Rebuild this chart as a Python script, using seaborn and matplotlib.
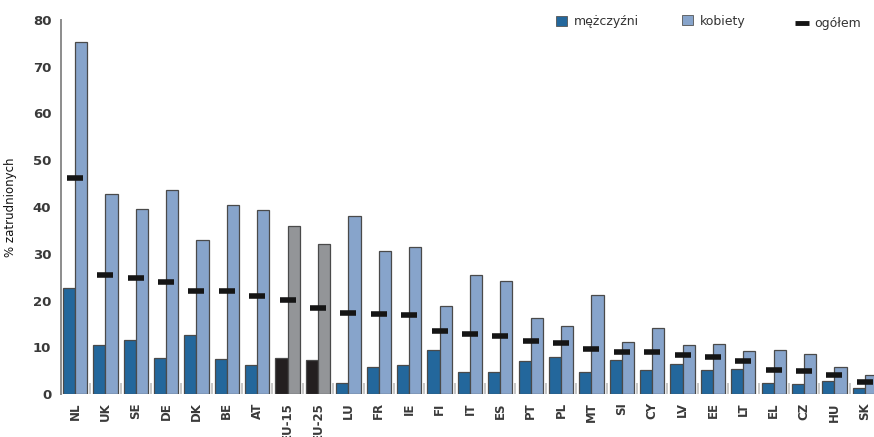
import pandas as pd
import numpy as np
import matplotlib
matplotlib.use('Agg')
import matplotlib.pyplot as plt
import seaborn as sns
from matplotlib.patches import Patch
from matplotlib.lines import Line2D
from matplotlib.ticker import FixedLocator

# ------------------------------------------------------------
#  DATA
# ------------------------------------------------------------
kraje = ['NL', 'UK', 'SE', 'DE', 'DK', 'BE', 'AT', 'EU-15', 'EU-25', 'LU',
         'FR', 'IE', 'FI', 'IT', 'ES', 'PT', 'PL', 'MT', 'SI', 'CY',
         'LV', 'EE', 'LT', 'EL', 'CZ', 'HU', 'SK']
mezczyzni = [22.7, 10.5, 11.5, 7.7, 12.6, 7.5, 6.2, 7.7, 7.3, 2.4,
             5.8, 6.2, 9.4, 4.7, 4.7, 7.1, 7.9, 4.7, 7.3, 5.1,
             6.4, 5.1, 5.3, 2.4, 2.1, 2.8, 1.3]
kobiety = [75.3, 42.8, 39.6, 43.6, 33.0, 40.4, 39.4, 36.0, 32.1, 38.1,
           30.6, 31.4, 18.8, 25.5, 24.2, 16.3, 14.5, 21.2, 11.1, 14.1,
           10.5, 10.7, 9.2, 9.4, 8.6, 5.8, 4.1]
ogolem = [46.2, 25.4, 24.8, 24.0, 22.0, 22.0, 21.0, 20.1, 18.4, 17.3,
          17.1, 16.9, 13.5, 12.8, 12.4, 11.3, 10.9, 9.6, 9.0, 9.0,
          8.3, 7.9, 7.1, 5.1, 4.9, 4.1, 2.6]
srednie_ue = ['EU-15', 'EU-25']

# colours
c_men = '#23679c'
c_women = '#87a4cb'
c_men_eu = '#231f20'
c_women_eu = '#939598'
c_edge = '#4a4a4a'

df = pd.DataFrame({
    'kraj': kraje * 2,
    'plec': ['mężczyźni'] * len(kraje) + ['kobiety'] * len(kraje),
    'wartosc': mezczyzni + kobiety,
})
df_og = pd.DataFrame({'kraj': kraje, 'ogolem': ogolem})

# ------------------------------------------------------------
#  PLOT
# ------------------------------------------------------------
sns.set_style('white')
plt.rcParams['font.family'] = ['DejaVu Sans']

W, H = 874, 437
fig = plt.figure(figsize=(W / 100, H / 100), dpi=100)
px = 30.38                      # pixels per category
x_left, x_right = -0.46, 26.6
ax = fig.add_axes([61 / W, 1 - 394 / H, (x_right - x_left) * px / W, 374 / H])

sns.barplot(data=df, x='kraj', y='wartosc', hue='plec',
            palette=[c_men, c_women], width=0.8, saturation=1,
            edgecolor=c_edge, linewidth=0.9, legend=False, ax=ax)

# EU averages in black / grey
for i, k in enumerate(kraje):
    if k in srednie_ue:
        ax.containers[0][i].set_facecolor(c_men_eu)
        ax.containers[1][i].set_facecolor(c_women_eu)

# overall total as a black dash
sns.pointplot(data=df_og, x='kraj', y='ogolem', linestyle='none',
              marker='_', markersize=12, markeredgewidth=4,
              color='#151515', errorbar=None, ax=ax, zorder=5)

ax.set_xlim(x_left, x_right)
ax.set_ylim(0, 80)
ax.set_yticks(range(0, 81, 10))
ax.set_xlabel('')
ax.set_ylabel('% zatrudnionych', fontsize=8.5, color='#111111')
ax.yaxis.set_label_coords(-0.053, 0.5)

for s in ['top', 'right', 'bottom']:
    ax.spines[s].set_visible(False)
ax.spines['left'].set_color('#8c8c8c')
ax.spines['left'].set_linewidth(1.4)

ax.tick_params(axis='y', direction='in', length=9, width=1.0, color='#8c8c8c',
               pad=7, labelsize=9.5, labelcolor='#3a3a3a')
for t in ax.get_yticklabels():
    t.set_fontweight('bold')
# the top tick is drawn a bit longer
ax.yaxis.get_major_ticks()[-1].tick1line.set_markersize(15)

ax.tick_params(axis='x', which='major', length=0, pad=6, labelsize=8.5,
               labelcolor='#3a3a3a', rotation=90)
for t in ax.get_xticklabels():
    t.set_fontweight('bold')
    t.set_va('top')

# small grey separators between groups
ax.xaxis.set_minor_locator(FixedLocator(np.arange(0.5, len(kraje), 1.0)))
ax.tick_params(axis='x', which='minor', direction='in', length=8, width=1.2,
               color='#bdbdbd', bottom=True)

# legend: one entry per legend to match the uneven spacing
leg_items = [
    (Patch(facecolor=c_men, edgecolor='#555555', linewidth=0.6), 'mężczyźni', 556, 22),
    (Patch(facecolor=c_women, edgecolor='#555555', linewidth=0.6), 'kobiety', 682, 21),
    (Line2D([], [], color='#151515', marker='_', linestyle='none',
            markersize=10, markeredgewidth=3.5), 'ogółem', 796, 24),
]
for h, lab, lx, ly in leg_items:
    fig.legend([h], [lab], loc='center left', bbox_to_anchor=(lx / W, 1 - ly / H),
               frameon=False, fontsize=9, handlelength=0.9, handleheight=0.9,
               handletextpad=0.55, borderpad=0, borderaxespad=0,
               labelcolor='#333333')

fig.savefig('out.png', dpi=100)
